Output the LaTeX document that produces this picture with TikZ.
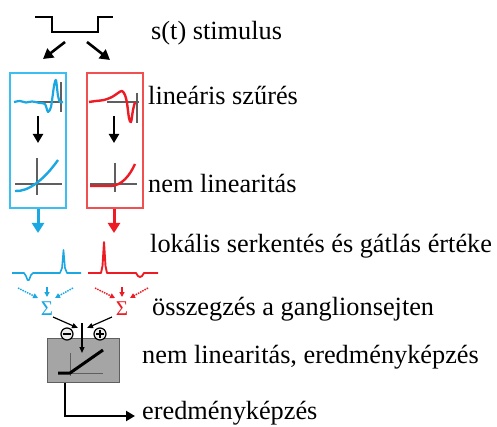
\documentclass[tikz,border=0pt]{standalone}
\usepackage{fontspec}
\setmainfont{Liberation Serif}
\usetikzlibrary{arrows.meta}
\definecolor{cblue}{RGB}{27,168,226}
\definecolor{cbluebox}{RGB}{60,190,240}
\definecolor{cred}{RGB}{237,28,36}
\definecolor{credbox}{RGB}{240,80,80}
\definecolor{axisgray}{RGB}{95,95,95}
\definecolor{boxgray}{RGB}{165,165,165}
\begin{document}
\begin{tikzpicture}[x=1pt,y=-1pt,
  lbl/.style={anchor=base west, inner sep=0, font=\fontsize{26.3}{30}\selectfont},
  bigarrow/.style={line width=2.6pt, -{Triangle[length=10pt,width=11pt]}},
  midarrow/.style={line width=2.2pt, -{Triangle[length=9pt,width=10pt]}},
  fatarrow/.style={line width=3pt, -{Triangle[length=10pt,width=12pt]}},
  dotarrow/.style={line width=1.5pt, densely dotted, -{Triangle[length=5pt,width=5pt]}},
  smallarrow/.style={line width=1.4pt, -{Triangle[length=5pt,width=5pt]}},
  thinarrow/.style={line width=1.2pt, -{Triangle[length=6pt,width=5pt]}},
  filterbox/.style={draw, line width=1.8pt, minimum width=56pt, minimum height=135pt, inner sep=0},
  ax/.style={axisgray, line width=1.4pt},
  signc/.style={circle, draw, line width=1.2pt, fill=gray!15, minimum size=12pt, inner sep=0},
  sig/.style={inner sep=0, font=\fontsize{21}{21}\selectfont}
]
\useasboundingbox (0,0) rectangle (497,427);

% stimulus
\draw[line width=2.8pt] (35,17) -- (52,17) -- (52,32) -- (98,32) -- (98,17) -- (113,17);
\coordinate (stimL) at (65,42);
\coordinate (stimR) at (87,42);

% filter boxes
\node[filterbox, draw=cbluebox] (bbox) at (38,140.5) {};
\node[filterbox, draw=credbox] (rbox) at (115,140.5) {};
\coordinate (bTop) at (43,59);
\coordinate (rTop) at (110,60);
\draw[bigarrow] (stimL) -- (bTop);
\draw[bigarrow] (stimR) -- (rTop);

% linear filters
\draw[ax] (35,102) -- (63,102);
\draw[ax] (61,82) -- (61,112);
\draw[cblue, line width=2.2pt, line join=round] plot[smooth, tension=0.4] coordinates
 {(14,102) (20,101) (26,102.5) (32,101.5) (40,103) (45,104) (48,112) (51,107) (54,86) (56,80) (58,96) (60,102) (63,102)};
\draw[ax] (107,102) -- (139,102);
\draw[ax] (137,93) -- (137,123);
\draw[cred, line width=2.4pt, line join=round] plot[smooth, tension=0.5] coordinates
 {(89,102) (96,101) (104,100) (112,97) (118,93) (122,91) (125,95) (127,103) (129,118) (131,122) (133,110) (135,102)};

% arrows inside boxes
\coordinate (bA1) at (38,116); \coordinate (bA2) at (38,143);
\coordinate (rA1) at (114,116); \coordinate (rA2) at (114,143);
\draw[midarrow] (bA1) -- (bA2);
\draw[midarrow] (rA1) -- (rA2);

% nonlinearities
\draw[ax] (15,184) -- (62,184);
\draw[ax] (37,158) -- (37,195);
\draw[cblue, line width=2.4pt] (15,191) .. controls (28,192) and (44,180) .. (58,160);
\draw[ax] (90,184) -- (137,184);
\draw[ax] (115,163) -- (115,192);
\draw[cred, line width=2.4pt] (90,186) -- (110,186) .. controls (122,186) and (130,175) .. (135,164);

% coloured arrows below boxes
\coordinate (bOut) at (38,233);
\coordinate (rOut) at (114,233);
\draw[fatarrow, cblue] (bbox.south) -- (bOut);
\draw[fatarrow, cred] (rbox.south -| rOut) -- (rOut);

% spike traces
\draw[cblue, line width=1.6pt, line join=round] (12,273) -- (24,273) -- (26,276) -- (27.5,280) -- (29,280) -- (31,275) -- (33,273) -- (60,273) -- (62,268) -- (63.5,250) -- (65,268) -- (67,273) -- (81,273);
\draw[cred, line width=1.9pt, line join=round] (88,273) -- (101,273) -- (102.5,266) -- (104,242) -- (105.5,266) -- (107,273) -- (136,273) -- (138,276) -- (140,277) -- (142,276) -- (144,273) -- (158,273);

% summation
\node[sig, text=cblue] (bsum) at (47,309) {Σ};
\node[sig, text=cred] (rsum) at (122,309) {Σ};
\coordinate (bd1) at (18,288); \coordinate (bd1e) at (38,298);
\coordinate (bd2) at (47,287); \coordinate (bd2e) at (47,297);
\coordinate (bd3) at (73,288); \coordinate (bd3e) at (55,298);
\draw[dotarrow, cblue] (bd1) -- (bd1e);
\draw[smallarrow, cblue] (bd2) -- (bd2e);
\draw[dotarrow, cblue] (bd3) -- (bd3e);
\coordinate (rd1) at (95,288); \coordinate (rd1e) at (115,298);
\coordinate (rd2) at (122,287); \coordinate (rd2e) at (122,297);
\coordinate (rd3) at (148,288); \coordinate (rd3e) at (130,298);
\draw[dotarrow, cred] (rd1) -- (rd1e);
\draw[smallarrow, cred] (rd2) -- (rd2e);
\draw[dotarrow, cred] (rd3) -- (rd3e);

% ganglion nonlinearity box
\node[draw=axisgray, line width=1pt, fill=boxgray, minimum width=72pt, minimum height=44pt, inner sep=0] (gbox) at (83,360) {};
\coordinate (g1) at (53,317); \coordinate (g1e) at (78,328);
\coordinate (g2) at (112,317); \coordinate (g2e) at (87,328);
\coordinate (g3) at (82,323); \coordinate (g3e) at (82,353);
\draw[thinarrow] (g1) -- (g1e);
\draw[thinarrow] (g2) -- (g2e);
\node[signc] (minus) at (67,334) {};
\node[signc] (plus) at (100,334) {};
\draw[line width=1.6pt] (63,334) -- (71,334);
\draw[line width=1.6pt] (96,334) -- (104,334) (100,330) -- (100,338);
\draw[thinarrow] (g3) -- (g3e);
\draw[axisgray, line width=1pt] (70,353) -- (70,376);
\draw[axisgray, line width=1pt] (70,373) -- (103,373);
\draw[line width=3pt] (58,373) -- (70,373) -- (103,350);

% output
\coordinate (outEnd) at (135,416);
\draw[line width=2.5pt, -{Triangle[length=9pt,width=10pt]}] (gbox.south -| 65,0) -- (65,416) -- (outEnd);

% labels
\node[lbl] (t1) at (151,40) {s(t) stimulus};
\node[lbl] (t2) at (148,105) {lineáris szűrés};
\node[lbl] (t3) at (148,193) {nem linearitás};
\node[lbl] (t4) at (150,253) {lokális serkentés és gátlás értéke};
\node[lbl] (t5) at (152,315) {összegzés a ganglionsejten};
\node[lbl] (t6) at (142,363) {nem linearitás, eredményképzés};
\node[lbl] (t7) at (142,419) {eredményképzés};
\end{tikzpicture}
\end{document}
